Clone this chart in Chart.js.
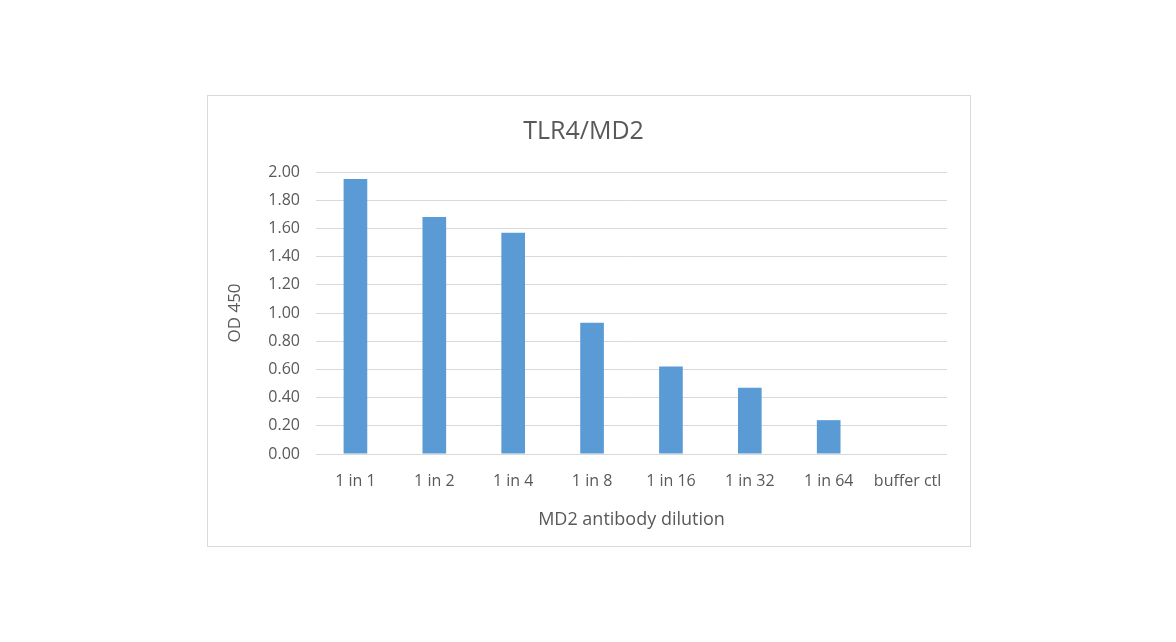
<!DOCTYPE html>
<html>
<head>
<meta charset="utf-8">
<script src="https://cdn.jsdelivr.net/npm/chart.js@4"></script>
<style>
  body { margin: 0; background: #fff; }
  #frame { position: absolute; left: 207px; top: 95px; width: 762px; height: 450px; border: 1px solid #d9d9d9; }
  #chart { position: absolute; left: 0; top: 0; }
</style>
</head>
<body>
<div id="frame"></div>
<canvas id="chart" width="1176" height="642"></canvas>
<script>
const categorias = ["1 in 1", "1 in 2", "1 in 4", "1 in 8", "1 in 16", "1 in 32", "1 in 64", "buffer ctl"];
const od450 = [1.95, 1.68, 1.57, 0.93, 0.62, 0.47, 0.24, 0.0];
const yMin = 0, yMax = 2, yStep = 0.2;

const cinza = "#595959";
const fonte = "'Open Sans', sans-serif";

new Chart(document.getElementById("chart"), {
    type: "bar",
    data: {
        labels: categorias,
        datasets: [{
            label: "OD 450",
            data: od450,
            backgroundColor: "#5b9bd5",
            categoryPercentage: 1,
            barPercentage: 0.3
        }]
    },
    options: {
        responsive: false,
        animation: false,
        devicePixelRatio: 1,
        layout: { padding: { left: 220, right: 229, top: 107, bottom: 108 } },
        plugins: {
            legend: { display: false },
            tooltip: { enabled: false },
            title: {
                display: true,
                text: "TLR4/MD2",
                color: cinza,
                font: { family: fonte, size: 25, weight: "normal" },
                padding: { top: 10, bottom: 25 }
            }
        },
        scales: {
            x: {
                grid: { display: false },
                border: { display: false },
                ticks: { color: cinza, font: { family: fonte, size: 16 }, padding: 10, maxRotation: 0 },
                title: { display: true, text: "MD2 antibody dilution", color: cinza, font: { family: fonte, size: 18 }, padding: { top: 10, bottom: 3 } },
                afterFit: s => { s.height = 80; }
            },
            y: {
                min: yMin,
                max: yMax,
                grid: { color: "#d9d9d9", lineWidth: 1, drawTicks: false },
                border: { display: false },
                ticks: { stepSize: yStep, color: cinza, font: { family: fonte, size: 16 }, padding: 16, callback: v => v.toFixed(2) },
                title: { display: true, text: "OD 450", color: cinza, font: { family: fonte, size: 17 }, padding: { top: 5, bottom: 0 } },
                afterFit: s => { s.width = 96; }
            }
        }
    }
});
</script>
</body>
</html>
